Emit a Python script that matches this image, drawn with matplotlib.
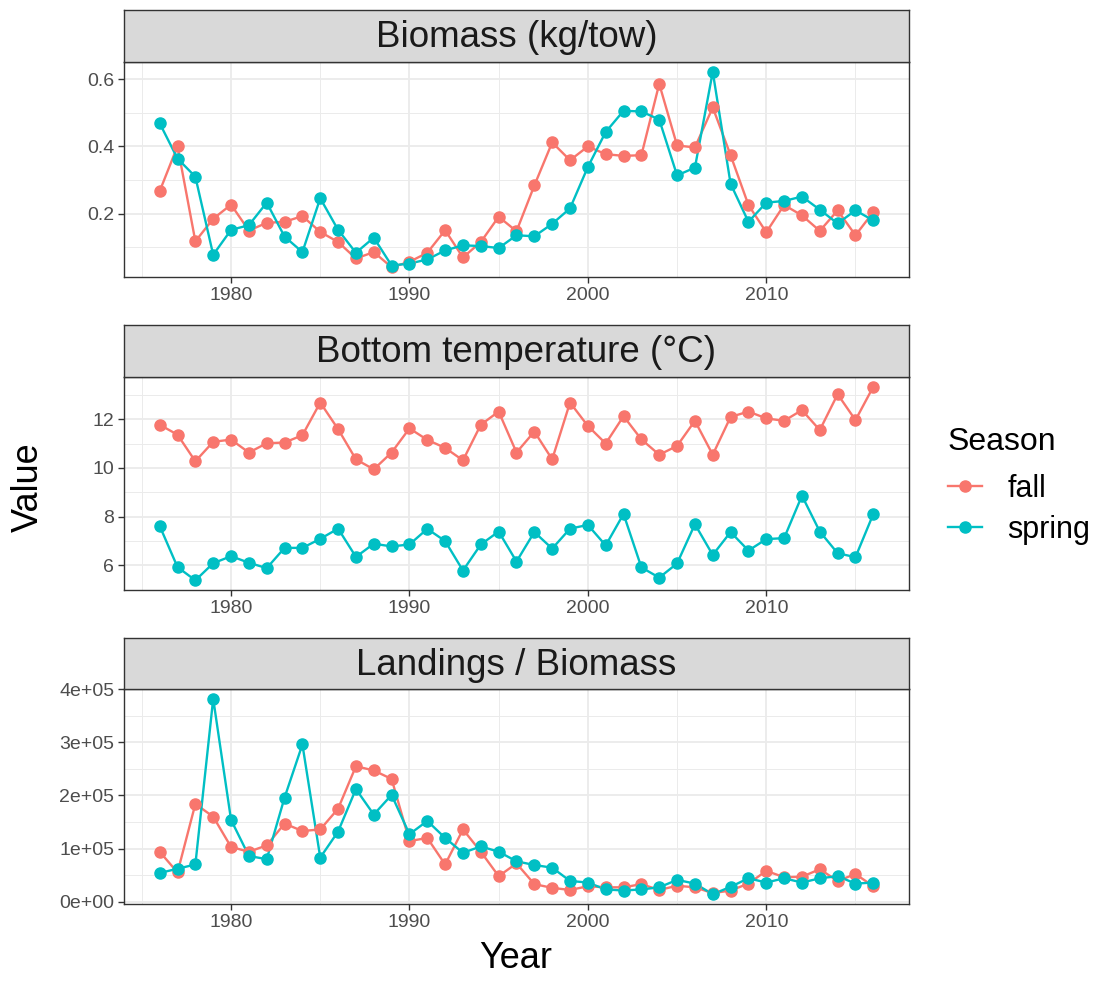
import numpy as np
import matplotlib
matplotlib.use("Agg")
import matplotlib.pyplot as plt
from matplotlib.ticker import MultipleLocator, FuncFormatter

plt.rcParams['font.family'] = ['Liberation Sans', 'DejaVu Sans']

years = np.arange(1976, 2017)

biomass_fall = [0.267, 0.401, 0.118, 0.185, 0.227, 0.150, 0.173, 0.176, 0.193, 0.146,
                0.116, 0.067, 0.086, 0.041, 0.057, 0.084, 0.151, 0.070, 0.116, 0.191,
                0.148, 0.284, 0.412, 0.359, 0.400, 0.377, 0.372, 0.374, 0.586, 0.403,
                0.397, 0.516, 0.374, 0.226, 0.145, 0.226, 0.195, 0.149, 0.210, 0.136, 0.205]
biomass_spring = [0.469, 0.364, 0.310, 0.078, 0.152, 0.166, 0.233, 0.132, 0.086, 0.246,
                  0.152, 0.084, 0.129, 0.046, 0.052, 0.064, 0.091, 0.106, 0.104, 0.098,
                  0.136, 0.133, 0.170, 0.216, 0.339, 0.443, 0.506, 0.504, 0.480, 0.314,
                  0.337, 0.622, 0.289, 0.176, 0.233, 0.238, 0.251, 0.212, 0.171, 0.210, 0.180]

temp_fall = [11.77, 11.36, 10.27, 11.07, 11.16, 10.63, 11.01, 11.04, 11.34, 12.68,
             11.59, 10.35, 9.94, 10.63, 11.62, 11.15, 10.82, 10.31, 11.77, 12.31,
             10.63, 11.49, 10.35, 12.68, 11.72, 11.00, 12.12, 11.17, 10.54, 10.90,
             11.93, 10.54, 12.09, 12.31, 12.03, 11.93, 12.37, 11.55, 13.02, 11.96, 13.33]
temp_spring = [7.62, 5.93, 5.39, 6.09, 6.38, 6.11, 5.89, 6.72, 6.72, 7.09,
               7.51, 6.35, 6.89, 6.78, 6.86, 7.50, 7.00, 5.79, 6.86, 7.39,
               6.16, 7.37, 6.69, 7.51, 7.66, 6.82, 8.11, 5.92, 5.50, 6.08,
               7.69, 6.43, 7.37, 6.61, 7.08, 7.12, 8.86, 7.39, 6.50, 6.34, 8.11]

# landings / biomass, in thousands
ratio_fall_k = [94, 55, 184, 160, 103, 94, 106, 147, 133, 136,
                175, 255, 247, 231, 114, 120, 70, 136, 94, 48,
                72, 33, 26, 22, 29, 27, 27, 33, 22, 30,
                27, 16, 21, 34, 58, 46, 47, 61, 39, 52, 29]
ratio_spring_k = [54, 62, 70, 382, 154, 86, 80, 196, 296, 83,
                  132, 212, 164, 201, 127, 152, 120, 92, 104, 94,
                  76, 69, 64, 39, 36, 23, 21, 23, 27, 41,
                  34, 14, 28, 44, 36, 44, 36, 44, 48, 34, 36]

titles = ["Biomass (kg/tow)", "Bottom temperature (°C)", "Landings / Biomass"]
seasons = ["fall", "spring"]
colors = {"fall": "#F8766D", "spring": "#00BFC4"}

panels = [
    (biomass_fall, biomass_spring, 0.2, 0.1, lambda v, p: f"{v:.1f}"),
    (temp_fall, temp_spring, 2, 1, lambda v, p: f"{v:.0f}"),
    (np.array(ratio_fall_k) * 1000, np.array(ratio_spring_k) * 1000, 1e5, 5e4,
     lambda v, p: f"{v:.0e}"),
]

W, H = 1103, 981
fig = plt.figure(figsize=(W / 100, H / 100), dpi=100)

left = 124 / W
width = 785 / W
# (strip top, panel top, panel bottom) in pixels
rows = [(10, 62, 277), (325, 377, 590), (638, 689, 904)]

border = "#333333"
grid = "#EBEBEB"
lw, ms = 1.7, 8
handles = None

for (fall, spring, major, minor, fmt), title, (st, pt, pb) in zip(panels, titles, rows):
    ax = fig.add_axes([left, 1 - pb / H, width, (pb - pt) / H])
    for s, vals in zip(seasons, [fall, spring]):
        ax.plot(years, vals, color=colors[s], lw=lw, zorder=3)
    for s, vals in zip(seasons, [fall, spring]):
        ax.plot(years, vals, 'o', color=colors[s], ms=ms, zorder=4)
    if handles is None:
        handles = [ax.plot([], [], '-o', color=colors[s], lw=lw, ms=ms)[0] for s in seasons]
    ax.margins(x=0.05, y=0.05)
    ax.xaxis.set_major_locator(MultipleLocator(10))
    ax.xaxis.set_minor_locator(MultipleLocator(5))
    ax.yaxis.set_major_locator(MultipleLocator(major))
    ax.yaxis.set_minor_locator(MultipleLocator(minor))
    ax.yaxis.set_major_formatter(FuncFormatter(fmt))
    ax.grid(which='major', color=grid, lw=1.3, zorder=0)
    ax.grid(which='minor', color=grid, lw=0.7, zorder=0)
    ax.set_axisbelow(True)
    ax.tick_params(which='major', length=4, width=1, color=border,
                   labelsize=14, labelcolor="#4D4D4D", pad=3)
    ax.tick_params(which='minor', length=0)
    for sp in ax.spines.values():
        sp.set_color(border)
        sp.set_linewidth(1.0)

    sax = fig.add_axes([left, 1 - pt / H, width, (pt - st) / H])
    sax.set_facecolor("#D9D9D9")
    sax.set_xticks([])
    sax.set_yticks([])
    for sp in sax.spines.values():
        sp.set_color(border)
        sp.set_linewidth(1.0)
    sax.text(0.5, 0.47, title, ha='center', va='center', fontsize=26.5,
             color="#1A1A1A", transform=sax.transAxes)

fig.text(28 / W, 1 - 487 / H, "Value", rotation=90, ha='center', va='center', fontsize=26)
fig.text(516 / W, 1 - 958 / H, "Year", ha='center', va='center', fontsize=26)

leg = fig.legend(handles, seasons, title="Season", loc='center left',
                 bbox_to_anchor=(948 / W, 1 - 486 / H), frameon=False,
                 borderpad=0, borderaxespad=0,
                 fontsize=22, title_fontsize=23, handlelength=1.1,
                 handletextpad=0.85, labelspacing=0.35)
leg._legend_box.align = "left"
leg._legend_box.sep = 12

fig.savefig("out.png", dpi=100)
